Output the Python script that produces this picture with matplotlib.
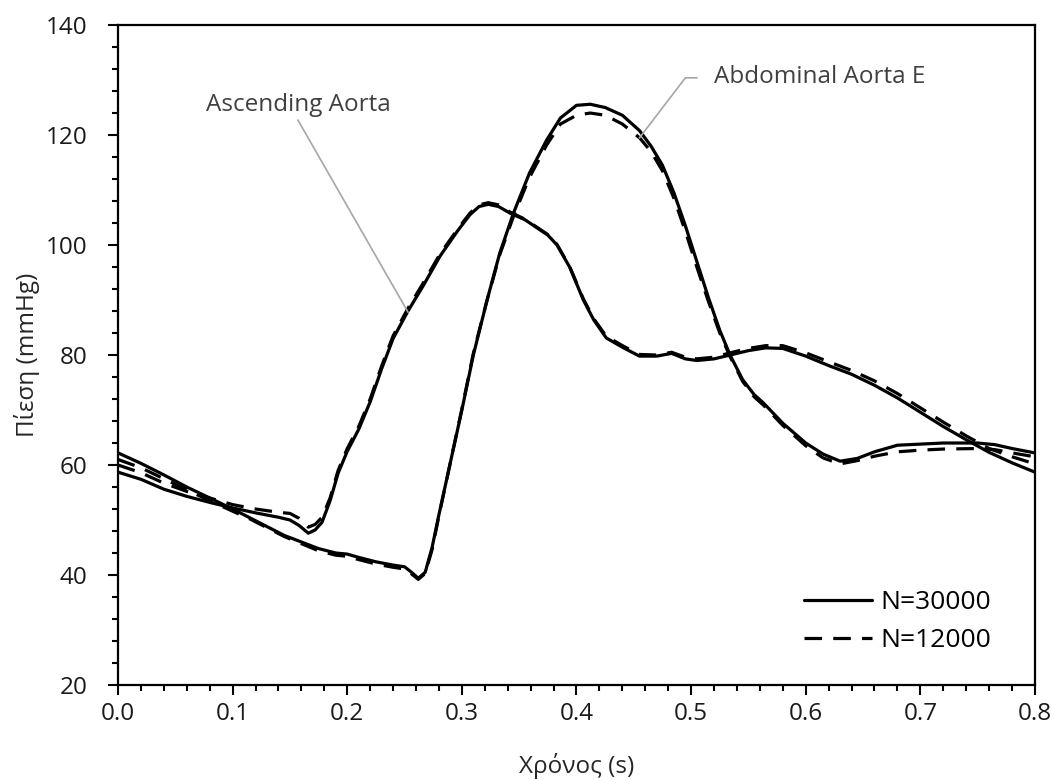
import matplotlib
matplotlib.use("Agg")
import matplotlib.pyplot as plt
from matplotlib.ticker import MultipleLocator

plt.rcParams['font.family'] = ['Open Sans', 'DejaVu Sans']

# Ascending Aorta
t_asc = [0.000, 0.020, 0.040, 0.060, 0.080, 0.100, 0.120, 0.140, 0.150, 0.158,
         0.166, 0.172, 0.178, 0.185, 0.192, 0.200, 0.210, 0.220, 0.230, 0.240,
         0.253, 0.266, 0.281, 0.296, 0.307, 0.315, 0.323, 0.332, 0.342, 0.355,
         0.365, 0.375, 0.383, 0.394, 0.406, 0.415, 0.426, 0.441, 0.455, 0.470,
         0.483, 0.495, 0.505, 0.520, 0.534, 0.550, 0.565, 0.580, 0.600, 0.621,
         0.640, 0.660, 0.680, 0.700, 0.720, 0.740, 0.760, 0.780, 0.800]
asc_30000 = [58.7, 57.4, 55.6, 54.3, 53.2, 52.2, 51.3, 50.5, 50.0, 49.0,
             47.6, 48.2, 49.6, 53.5, 58.5, 62.5, 66.5, 71.5, 77.5, 83.0,
             88.0, 92.5, 98.0, 102.5, 105.5, 107.0, 107.4, 107.0, 105.8, 104.6,
             103.2, 101.8, 100.0, 96.0, 90.0, 86.4, 83.1, 81.3, 79.8, 79.8,
             80.3, 79.3, 79.0, 79.3, 80.0, 80.8, 81.3, 81.2, 79.8, 78.0,
             76.5, 74.5, 72.2, 69.6, 67.0, 64.6, 62.3, 60.4, 58.7]
asc_12000 = [60.0, 58.6, 56.7, 55.2, 54.0, 52.8, 52.0, 51.4, 51.2, 50.3,
             48.7, 49.2, 50.5, 54.0, 59.0, 63.0, 67.0, 72.0, 78.0, 83.5,
             88.5, 93.0, 98.4, 102.8, 105.8, 107.3, 107.7, 107.3, 106.0, 104.7,
             103.3, 101.9, 100.1, 96.1, 90.2, 86.6, 83.4, 81.6, 80.1, 80.0,
             80.5, 79.6, 79.3, 79.6, 80.4, 81.2, 81.7, 81.7, 80.4, 78.7,
             77.2, 75.3, 73.0, 70.4, 67.8, 65.3, 63.0, 61.5, 60.2]

# Abdominal Aorta E
t_abd = [0.000, 0.020, 0.040, 0.060, 0.080, 0.100, 0.115, 0.130, 0.145, 0.160,
         0.175, 0.190, 0.200, 0.210, 0.225, 0.240, 0.250, 0.256, 0.262, 0.268,
         0.274, 0.280, 0.290, 0.300, 0.310, 0.322, 0.333, 0.345, 0.359, 0.374,
         0.386, 0.400, 0.412, 0.425, 0.440, 0.455, 0.465, 0.475, 0.485, 0.495,
         0.505, 0.515, 0.525, 0.534, 0.545, 0.555, 0.563, 0.580, 0.600, 0.615,
         0.630, 0.645, 0.660, 0.680, 0.700, 0.720, 0.750, 0.765, 0.780, 0.800]
abd_30000 = [62.2, 60.3, 58.2, 56.0, 54.0, 52.0, 50.4, 48.8, 47.2, 46.0,
             44.8, 44.0, 43.8, 43.2, 42.4, 41.8, 41.5, 40.5, 39.4, 40.5,
             45.0, 51.0, 60.5, 70.0, 80.0, 90.0, 98.5, 105.8, 113.1, 119.1,
             123.1, 125.4, 125.6, 125.0, 123.6, 120.8, 118.0, 114.5, 109.5, 103.5,
             97.0, 90.5, 84.5, 80.0, 75.5, 72.8, 71.3, 67.6, 64.0, 62.0,
             60.7, 61.2, 62.4, 63.6, 63.8, 64.0, 64.0, 63.7, 63.0, 62.2]
abd_12000 = [61.0, 59.5, 57.5, 55.5, 53.5, 51.6, 50.2, 48.6, 47.0, 45.7,
             44.4, 43.6, 43.4, 42.8, 42.0, 41.4, 41.1, 40.2, 39.2, 40.3,
             44.6, 50.8, 60.5, 70.2, 80.3, 90.0, 98.2, 105.2, 112.3, 118.2,
             122.0, 123.6, 124.0, 123.6, 122.0, 119.5, 117.0, 113.5, 108.5, 102.5,
             96.0, 89.8, 84.0, 79.7, 75.2, 72.4, 70.9, 67.2, 63.5, 61.3,
             60.2, 60.8, 61.6, 62.4, 62.7, 62.9, 63.0, 62.8, 62.2, 61.5]

fig = plt.figure(figsize=(10.52, 7.8), dpi=100)
ax = fig.add_axes([0.1122, 0.1218, 0.8716, 0.8461])

lw = 2.3
ax.plot(t_asc, asc_30000, color='black', lw=lw, solid_capstyle='round', label='N=30000')
ax.plot(t_asc, asc_12000, color='black', lw=lw, dashes=(5.5, 3.5), label='N=12000')
ax.plot(t_abd, abd_30000, color='black', lw=lw, solid_capstyle='round')
ax.plot(t_abd, abd_12000, color='black', lw=lw, dashes=(5.5, 3.5))

ax.set_xlim(0, 0.8)
ax.set_ylim(20, 140)
ax.xaxis.set_major_locator(MultipleLocator(0.1))
ax.xaxis.set_minor_locator(MultipleLocator(0.02))
ax.yaxis.set_major_locator(MultipleLocator(20))
ax.yaxis.set_minor_locator(MultipleLocator(4))
ax.xaxis.set_major_formatter(plt.FuncFormatter(lambda v, p: f"{v:.1f}"))
ax.tick_params(which='major', direction='out', length=7, width=1.5,
               labelsize=17.5, pad=5, labelcolor='#1a1a1a')
ax.tick_params(axis='y', which='major', pad=15)
ax.tick_params(which='minor', direction='out', length=4.5, width=1.5)
for s in ax.spines.values():
    s.set_linewidth(1.6)

ax.set_xlabel('Χρόνος (s)', fontsize=17.5, color='#262626', labelpad=20)
ax.set_ylabel('Πίεση (mmHg)', fontsize=17.5, color='#262626', labelpad=4)

# annotations
gray = '#a6a6a6'
ax.plot([0.157, 0.253], [122.7, 87.8], color=gray, lw=1.2)
ax.text(0.157, 123.3, 'Ascending Aorta', fontsize=17.5, color='#404040',
        ha='center', va='bottom')
ax.plot([0.455, 0.495, 0.505], [119.5, 130.4, 130.4], color=gray, lw=1.2)
ax.text(0.52, 130.6, 'Abdominal Aorta E', fontsize=17.5, color='#404040',
        ha='left', va='center')

ax.legend(loc='lower right', bbox_to_anchor=(0.978, 0.012), frameon=False,
          fontsize=19, handlelength=2.6, handletextpad=0.3, labelspacing=0.5)

fig.savefig('out.png', dpi=100)
